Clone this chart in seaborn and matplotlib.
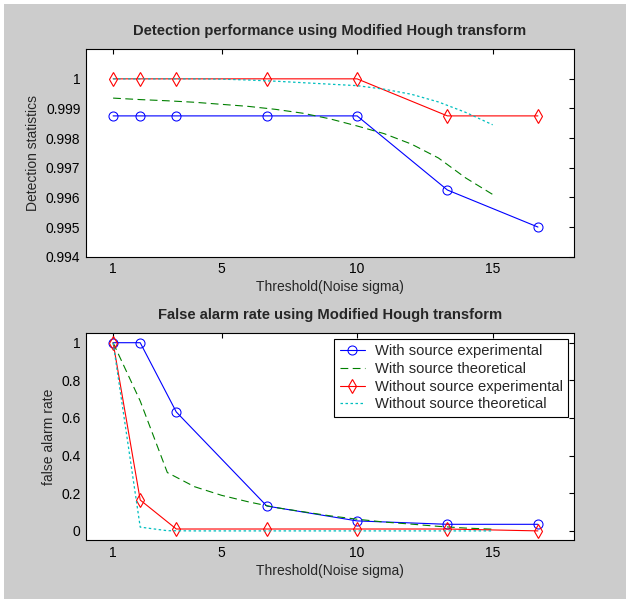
import numpy as np
import pandas as pd
import matplotlib
matplotlib.use('Agg')
import matplotlib.pyplot as plt
from matplotlib.patches import Rectangle
import seaborn as sns

# thresholds (noise sigma)
x_exp = [1, 2, 3.33, 6.67, 10, 13.33, 16.67]
x_theory = [1, 2, 3, 4, 5, 6, 7, 8, 9, 10, 11, 12, 13, 14, 15]

# detection statistics
det_with_exp = [0.99875, 0.99875, 0.99875, 0.99875, 0.99875, 0.99625, 0.995]
det_with_theory = [0.99935, 0.99930, 0.99926, 0.99921, 0.99914, 0.99907, 0.99897, 0.99884,
                   0.99865, 0.99841, 0.99815, 0.99780, 0.99733, 0.99666, 0.99610]
det_without_exp = [1.0, 1.0, 1.0, 1.0, 1.0, 0.99875, 0.99875]
det_without_theory = [1.0, 1.0, 1.0, 1.0, 0.99999, 0.99996, 0.99992, 0.99987,
                      0.99982, 0.99977, 0.99965, 0.99948, 0.99922, 0.99887, 0.99845]

# false alarm rate
fa_with_exp = [1.0, 1.0, 0.632, 0.132, 0.053, 0.035, 0.035]
fa_with_theory = [1.0, 0.69, 0.31, 0.235, 0.189, 0.154, 0.124, 0.102,
                  0.08, 0.062, 0.047, 0.036, 0.024, 0.015, 0.009]
fa_without_exp = [1.0, 0.164, 0.01, 0.01, 0.01, 0.01, 0.0]
fa_without_theory = [1.0, 0.02, 0.001, 0.0, 0.0, 0.0, 0.0, 0.0,
                     0.0, 0.0, 0.0, 0.0, 0.0, 0.0, 0.0]

labels = ['With source experimental', 'With source theoretical',
          'Without source experimental', 'Without source theoretical']

sns.set_style('white')
plt.rcParams['font.family'] = ['Liberation Sans', 'DejaVu Sans']
plt.rcParams['font.size'] = 10

fig = plt.figure(figsize=(6.26, 5.99), dpi=100, facecolor='#cccccc')
fig.add_artist(Rectangle((0, 1 - 4 / 599), 1, 4 / 599, transform=fig.transFigure, color='white', lw=0))
fig.add_artist(Rectangle((0, 0), 4 / 626, 1, transform=fig.transFigure, color='white', lw=0))

ax1 = fig.add_axes([86 / 626, 1 - 256.7 / 599, 488 / 626, 207.5 / 599])
ax2 = fig.add_axes([86 / 626, 1 - 540.3 / 599, 488 / 626, 207 / 599])


def draw(ax, with_exp, with_th, without_exp, without_th):
    sns.lineplot(x=x_exp, y=with_exp, ax=ax, color='#0000ff', marker='o', mfc='none',
                 mec='#0000ff', ms=6.5, lw=0.8, label=labels[0])
    sns.lineplot(x=x_theory, y=with_th, ax=ax, color='#008000', lw=0.8,
                 dashes=False, label=labels[1]).lines[-1].set_dashes([7, 4])
    sns.lineplot(x=x_exp, y=without_exp, ax=ax, color='#ff0000', marker='d', mfc='none',
                 mec='#ff0000', ms=7.2, mew=0.8, lw=0.8, label=labels[2])
    sns.lineplot(x=x_theory, y=without_th, ax=ax, color='#00bfbf', lw=0.9,
                 dashes=False, label=labels[3]).lines[-1].set_dashes([2, 2])
    ax.set_xlim(0, 18)
    ax.set_xticks([1, 5, 10, 15])
    ax.set_xlabel('Threshold(Noise sigma)', fontsize=10, labelpad=3)
    ax.tick_params(direction='in', top=True, right=True, length=3.6, width=0.8,
                   colors='black', labelsize=10, pad=4)
    for s in ax.spines.values():
        s.set_color('black')
        s.set_linewidth(0.8)
    ax.set_facecolor('white')


draw(ax1, det_with_exp, det_with_theory, det_without_exp, det_without_theory)
ax1.set_ylim(0.994, 1.001)
ax1.set_yticks([0.994, 0.995, 0.996, 0.997, 0.998, 0.999, 1.0])
ax1.set_yticklabels(['0.994', '0.995', '0.996', '0.997', '0.998', '0.999', '1'])
ax1.set_ylabel('Detection statistics', fontsize=10)
ax1.set_title('Detection performance using Modified Hough transform', fontsize=10.6,
              fontweight='bold', pad=10)
ax1.get_legend().remove()

draw(ax2, fa_with_exp, fa_with_theory, fa_without_exp, fa_without_theory)
ax2.set_ylim(-0.05, 1.05)
ax2.set_yticks([0, 0.2, 0.4, 0.6, 0.8, 1.0])
ax2.set_yticklabels(['0', '0.2', '0.4', '0.6', '0.8', '1'])
ax2.set_ylabel('false alarm rate', fontsize=10)
ax2.set_title('False alarm rate using Modified Hough transform', fontsize=10.6,
              fontweight='bold', pad=10)
leg = ax2.legend(loc='upper right', fontsize=10.6, fancybox=False, framealpha=1,
                 edgecolor='black', borderaxespad=0.4, handlelength=1.7,
                 handletextpad=0.7, labelspacing=0.25, borderpad=0.35)
leg.get_frame().set_linewidth(0.8)

fig.savefig('out.png', dpi=100, facecolor=fig.get_facecolor())
